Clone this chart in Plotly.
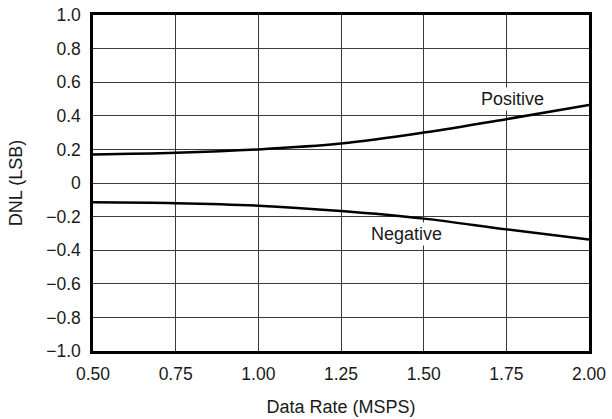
import plotly.graph_objects as go

data_rate = [0.50, 0.75, 1.00, 1.25, 1.50, 1.75, 2.00]
dnl_positive = [0.170, 0.180, 0.200, 0.235, 0.300, 0.380, 0.465]
dnl_negative = [-0.115, -0.120, -0.135, -0.167, -0.212, -0.276, -0.337]

x_ticks = [0.50, 0.75, 1.00, 1.25, 1.50, 1.75, 2.00]
x_ticktext = ["0.50", "0.75", "1.00", "1.25", "1.50", "1.75", "2.00"]
y_ticks = [1.0, 0.8, 0.6, 0.4, 0.2, 0, -0.2, -0.4, -0.6, -0.8, -1.0]
y_ticktext = ["1.0", "0.8", "0.6", "0.4", "0.2", "0", "\u22120.2", "\u22120.4", "\u22120.6", "\u22120.8", "\u22121.0"]

labels = ["Positive", "Negative"]
label_x = [1.77, 1.447]
label_y = [0.50, -0.304]

FAM = "Liberation Sans, Arial, Helvetica, sans-serif"
tick_font = dict(family=FAM, size=17.5, color="#1a1a1a")
title_font = dict(family=FAM, size=18, color="#1a1a1a")

fig = go.Figure()
fig.add_trace(go.Scatter(x=data_rate, y=dnl_positive, mode="lines",
                         line=dict(color="black", width=2.5, shape="spline"), showlegend=False))
fig.add_trace(go.Scatter(x=data_rate, y=dnl_negative, mode="lines",
                         line=dict(color="black", width=2.5, shape="spline"), showlegend=False))

for t, x, y in zip(labels, label_x, label_y):
    fig.add_annotation(x=x, y=y, text=t, showarrow=False, font=title_font,
                       bgcolor="white", borderpad=1)

fig.update_layout(
    width=612, height=419,
    margin=dict(l=93, r=23, t=15, b=68, autoexpand=False),
    paper_bgcolor="white", plot_bgcolor="white",
    font=tick_font,
    xaxis=dict(range=[0.5, 2.0], tickvals=x_ticks, ticktext=x_ticktext,
               showgrid=True, gridcolor="#3a3a3a", gridwidth=1,
               showline=True, linecolor="black", linewidth=2.5, mirror=True,
               ticks="", zeroline=False, automargin=False, tickfont=tick_font,
               ticklabelstandoff=5,
               title=dict(text="Data Rate (MSPS)", font=title_font, standoff=18)),
    yaxis=dict(range=[-1.0, 1.0], tickvals=y_ticks, ticktext=y_ticktext,
               showgrid=True, gridcolor="#3a3a3a", gridwidth=1,
               showline=True, linecolor="black", linewidth=2.5, mirror=True,
               ticks="", zeroline=False, automargin=False, tickfont=tick_font,
               ticklabelstandoff=6,
               title=dict(text="DNL (LSB)", font=title_font, standoff=19)),
)

fig.write_html("out.html", config={"displayModeBar": False},
               post_script="document.body.style.margin='0px';")
